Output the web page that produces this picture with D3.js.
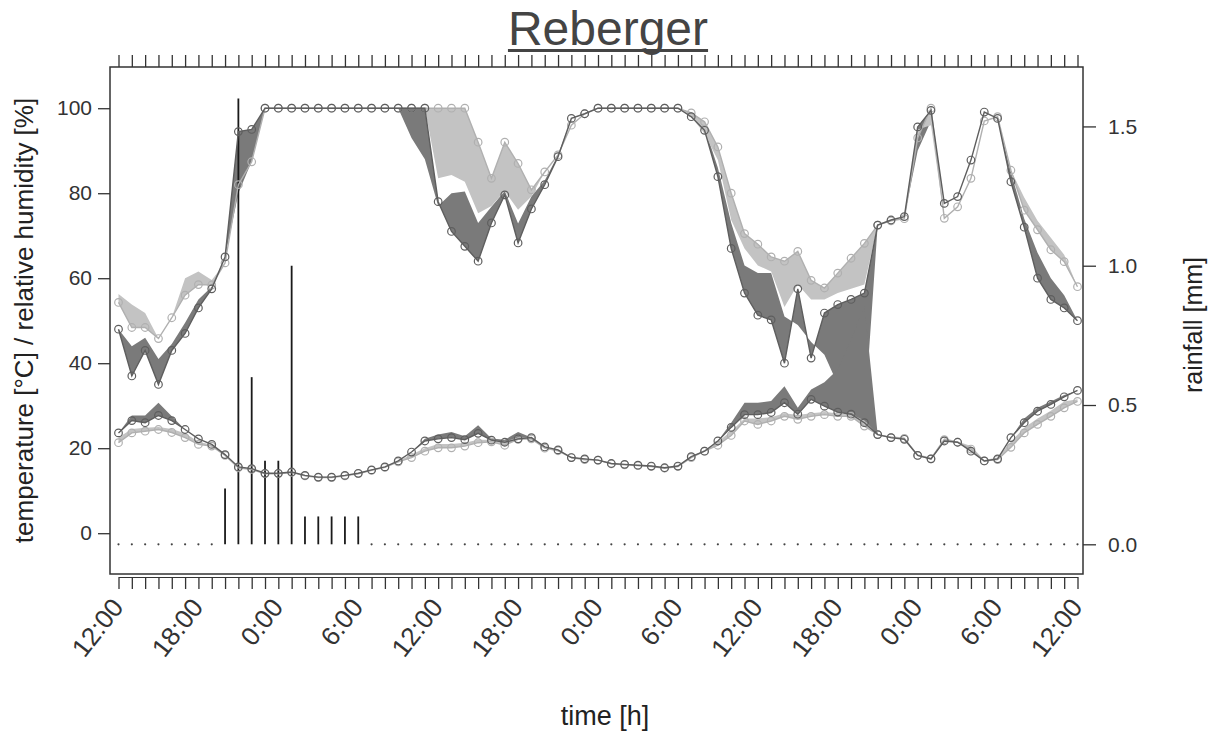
<!DOCTYPE html>
<html>
<head>
<meta charset="utf-8">
<script src="https://cdn.jsdelivr.net/npm/d3@7"></script>
<style>
  body { margin: 0; background: #fff; }
  text { font-family: "Liberation Sans", Arial, Helvetica, sans-serif; }
</style>
</head>
<body>
<svg id="chart" width="1217" height="732"></svg>
<script>
// ---- data: hourly values, 12:00 day 1 -> 12:00 day 4 (73 readings) ----
const timeLabels = ["12:00","18:00","0:00","6:00","12:00","18:00","0:00","6:00","12:00","18:00","0:00","6:00","12:00"];
const labelEvery = 6;

// relative humidity [%], sensor pair A (dark) and B (light)
const rhDark = [48,37,43,35,43,47,53,57.5,65,94.5,95,100,
  100,100,100,100,100,100,100,100,100,100,100,100,
  78,71,67.5,64,73,79.6,68.3,76.3,82,88.6,97.6,98.7,
  100,100,100,100,100,100,100,98,94.8,83.9,67,56.5,
  51.3,50.2,40,57.5,41.2,51.8,53.8,55,56.5,72.5,73.7,74.5,
  95.6,99.5,77.6,79.2,87.8,99.1,97.6,82.7,72,60,55,53,
  50];
const rhDark2 = [48,44,46,41,44.5,49.5,55,58,65,80,87.5,100,
  100,100,100,100,100,100,100,100,100,100,93,88,
  77,80,80.4,73,76.8,80.5,72.9,79.2,83,89,97.6,98.7,
  100,100,100,100,100,100,100,99,95.5,86,73,63,
  61.2,61.2,51,49,45,42,35,30,27,72.5,73.7,74.5,
  90,97,77.6,79.2,87.8,99.1,97.6,85,74,66,60,56,
  50];
const rhLight = [54.3,48.4,48.4,45.8,50.7,56,58.5,58.4,63.6,82,87.4,100,
  100,100,100,100,100,100,100,100,100,100,100,100,
  100,100,100,92,83.5,92,87,80.8,85,89,96,98.7,
  100,100,100,100,100,100,100,98.9,96.8,90.9,80,70.5,
  68,65,64,66.3,59.5,57.7,61.2,64.7,68.2,72.5,73.5,74,
  93,100,74.1,76.8,83.5,97,98,85.4,76,71.4,66.7,63.9,
  58];
const rhLight2 = [56.3,53.8,51.8,45.8,50.7,60,61.6,59.6,63.6,82,87.4,100,
  100,100,100,100,100,100,100,100,100,100,100,100,
  83.5,84.3,82.7,75.3,77,80.5,76.1,79.2,85,89,96,98.7,
  100,100,100,100,100,100,100,98,94,87.8,73.7,67,
  63,61.6,53.2,58.5,55,55,56.5,57.5,58.5,72.5,73.5,74,
  95,96,74.1,76.8,83.5,97,98,85.4,79,73.5,69.5,65.5,
  58];

// temperature [°C]
const tDark = [23.6,26.5,26,27.7,26.5,24.4,22.2,20.9,18.5,15.6,15.2,14.1,
  14.1,14.4,13.6,13.2,13.2,13.6,14.1,14.9,15.6,17.0,19.1,21.7,
  22.2,22.5,22,23.5,21.9,21.4,22.2,22.5,20.3,19.6,17.8,17.5,
  17.2,16.4,16.2,16.0,15.8,15.4,15.8,18.0,19.3,21.7,24.9,27.9,
  27.9,28.4,30.7,28,31.5,29.9,28.5,28,26,23.2,22.5,22.1,
  18.3,17.5,21.7,21.4,19.3,17.0,17.5,22.5,26,28.7,30.3,32.1,
  33.6];
const tDark2 = [23.6,27.7,27.7,30.7,27.5,24.4,22.2,20.9,18.5,15.6,15.2,14.1,
  14.1,14.4,13.6,13.2,13.2,13.6,14.1,14.9,15.6,17.0,19.1,22.2,
  23.2,23.8,22.8,25.4,22.3,22,23.8,22.5,20.3,19.6,17.8,17.5,
  17.2,16.4,16.2,16.0,15.8,15.4,15.8,18.0,19.3,21.7,26,30.7,
  30.7,31.1,34.6,29.5,33.8,35.5,38.5,45.5,53.4,23.2,22.5,22.1,
  18.3,17.5,21.7,21.4,19.3,17.0,17.5,22.5,27,29.5,31,32.5,
  33.6];
const tLight = [21.3,23.6,24,24.4,23.7,22.5,20.9,20.5,18.3,15.4,15,14,
  14,14.3,13.5,13.1,13.1,13.5,14,14.8,15.5,16.8,17.8,19.3,
  20.1,20.1,20.5,21.3,21.5,20.7,22.1,22.2,20,19.4,17.8,17.3,
  17.2,16.3,16.1,15.9,15.7,15.3,15.7,17.8,19.3,20.7,23,26.4,
  25.6,26.4,27.5,26.8,27.5,27.9,27.5,27.5,25.2,23.2,22.5,22.3,
  18.3,17.5,22,21.4,19.8,17.0,17.3,20.2,23.6,25.6,27.5,29.5,
  31];
const tLight2 = [22.5,24.5,24.8,25,24.5,23.5,21.5,20.8,18.5,15.6,15.2,14.1,
  14.1,14.4,13.6,13.2,13.2,13.6,14.1,14.9,15.6,17,18.5,20,
  21,21,21.3,22,22,21.5,22.6,22.5,20.3,19.6,17.8,17.5,
  17.2,16.4,16.2,16.0,15.8,15.4,15.8,18,19.6,21.5,24,27,
  27,27.3,28.2,27.8,28.2,28.5,28.2,28,26.5,23.2,22.8,22.5,
  18.6,17.8,22.4,21.6,20.5,17.2,17.8,21.5,24.8,27,28.8,31,
  31.5];

// hourly rainfall [mm]
const rain = [0,0,0,0,0,0,0,0,0.2,1.6,0.6,0.3,
  0.3,1.0,0.1,0.1,0.1,0.1,0.1,0,0,0,0,0,
  0,0,0,0,0,0,0,0,0,0,0,0,
  0,0,0,0,0,0,0,0,0,0,0,0,
  0,0,0,0,0,0,0,0,0,0,0,0,
  0,0,0,0,0,0,0,0,0,0,0,0,
  0];

const leftTicks = [0, 20, 40, 60, 80, 100];
const rightTicks = [0, 0.5, 1.0, 1.5];

// ---- layout ----
const box = { left: 110, right: 1083, top: 67, bottom: 574 };
const svg = d3.select("#chart");
const nHours = rain.length - 1;

const x = d3.scaleLinear().domain([0, nHours]).range([118.5, 1077.5]);
const yL = d3.scaleLinear().domain([-9.6, 109.7]).range([box.bottom, box.top]);
const yR = d3.scaleLinear().domain([-0.1066, 1.7133]).range([box.bottom, box.top]);

const darkFill = "#7a7a7a", lightFill = "#c3c3c3";
const darkLine = "#5e5e5e", lightLine = "#b0b0b0";
const ink = "#333";

// ---- bands between the two sensors of each pair ----
function band(lo, hi, fill) {
  const area = d3.area()
    .x((d, i) => x(i))
    .y0((d, i) => yL(lo[i]))
    .y1((d, i) => yL(hi[i]));
  svg.append("path").attr("d", area(lo)).attr("fill", fill).attr("stroke", "none");
}
band(rhDark, rhDark2, darkFill);
band(tDark, tDark2, darkFill);
band(rhLight, rhLight2, lightFill);
band(tLight, tLight2, lightFill);

// ---- rainfall: vertical bars, dots where no rain fell ----
const rainG = svg.append("g");
rain.forEach((r, i) => {
  if (r > 0) {
    rainG.append("line")
      .attr("x1", x(i)).attr("x2", x(i))
      .attr("y1", yR(0)).attr("y2", yR(r))
      .attr("stroke", "#1a1a1a").attr("stroke-width", 1.8);
  } else {
    rainG.append("circle")
      .attr("cx", x(i)).attr("cy", yR(0)).attr("r", 1.1)
      .attr("fill", "#444");
  }
});

// ---- series lines with open circles ----
function series(vals, color) {
  const line = d3.line().x((d, i) => x(i)).y(d => yL(d));
  svg.append("path").attr("d", line(vals))
    .attr("fill", "none").attr("stroke", color).attr("stroke-width", 1.4);
  svg.append("g").selectAll("circle").data(vals).join("circle")
    .attr("cx", (d, i) => x(i)).attr("cy", d => yL(d)).attr("r", 3.8)
    .attr("fill", "none").attr("stroke", color).attr("stroke-width", 1.2);
}
series(rhLight, lightLine);
series(tLight, lightLine);
series(rhDark, darkLine);
series(tDark, darkLine);

// ---- plot frame ----
svg.append("rect")
  .attr("x", box.left).attr("y", box.top)
  .attr("width", box.right - box.left).attr("height", box.bottom - box.top)
  .attr("fill", "none").attr("stroke", ink).attr("stroke-width", 1.5);

// ---- left axis ----
const axL = svg.append("g").attr("transform", `translate(${box.left},0)`)
  .call(d3.axisLeft(yL).tickValues(leftTicks).tickSize(12).tickSizeOuter(0).tickPadding(6));
axL.select(".domain").remove();
axL.selectAll("line").attr("stroke", ink).attr("stroke-width", 1.3);
axL.selectAll("text").attr("font-size", 21).attr("fill", ink)
  .attr("font-family", "Liberation Sans, Arial, sans-serif");

// ---- right axis (rainfall) ----
const axR = svg.append("g").attr("transform", `translate(${box.right},0)`)
  .call(d3.axisRight(yR).tickValues(rightTicks).tickFormat(d3.format(".1f"))
    .tickSize(13).tickSizeOuter(0).tickPadding(12));
axR.select(".domain").remove();
axR.selectAll("line").attr("stroke", ink).attr("stroke-width", 1.3);
axR.selectAll("text").attr("font-size", 21).attr("fill", ink)
  .attr("font-family", "Liberation Sans, Arial, sans-serif");

// ---- bottom time axis: hourly ticks, labels every 6 h ----
const hourTicks = d3.range(0, nHours + 1);
const axB = svg.append("g").attr("transform", `translate(0,577)`)
  .call(d3.axisBottom(x).tickValues(hourTicks).tickSize(12).tickSizeOuter(0).tickFormat(""));
axB.select(".domain").attr("stroke", ink).attr("stroke-width", 1.2);
axB.selectAll("line").attr("stroke", ink).attr("stroke-width", 1.3);

timeLabels.forEach((lab, k) => {
  const hx = x(k * labelEvery);
  svg.append("text")
    .attr("transform", `translate(${hx - 1},${602}) rotate(-52)`)
    .attr("text-anchor", "end")
    .attr("dominant-baseline", "central")
    .attr("font-size", 26).attr("fill", ink)
    .text(lab);
});

// ---- top axis: hourly ticks only ----
const axT = svg.append("g").attr("transform", `translate(0,${box.top})`)
  .call(d3.axisTop(x).tickValues(hourTicks).tickSize(12).tickSizeOuter(0).tickFormat(""));
axT.select(".domain").remove();
axT.selectAll("line").attr("stroke", ink).attr("stroke-width", 1.3);

// ---- titles ----
const title = svg.append("text")
  .attr("x", 608).attr("y", 45).attr("text-anchor", "middle")
  .attr("font-size", 48).attr("fill", "#444").text("Reberger");
const tw = title.node().getComputedTextLength();
svg.append("rect").attr("x", 608 - tw / 2).attr("y", 49)
  .attr("width", tw).attr("height", 3).attr("fill", "#444");

svg.append("text")
  .attr("x", 605).attr("y", 725).attr("text-anchor", "middle")
  .attr("font-size", 27).attr("fill", "#222").text("time [h]");

svg.append("text")
  .attr("transform", `translate(33,${(box.top + box.bottom) / 2}) rotate(-90)`)
  .attr("text-anchor", "middle")
  .attr("font-size", 26).attr("fill", "#222")
  .text("temperature [°C] / relative humidity [%]");

svg.append("text")
  .attr("transform", `translate(1202,325) rotate(-90)`)
  .attr("text-anchor", "middle")
  .attr("font-size", 25).attr("fill", "#222")
  .text("rainfall [mm]");
</script>
</body>
</html>
